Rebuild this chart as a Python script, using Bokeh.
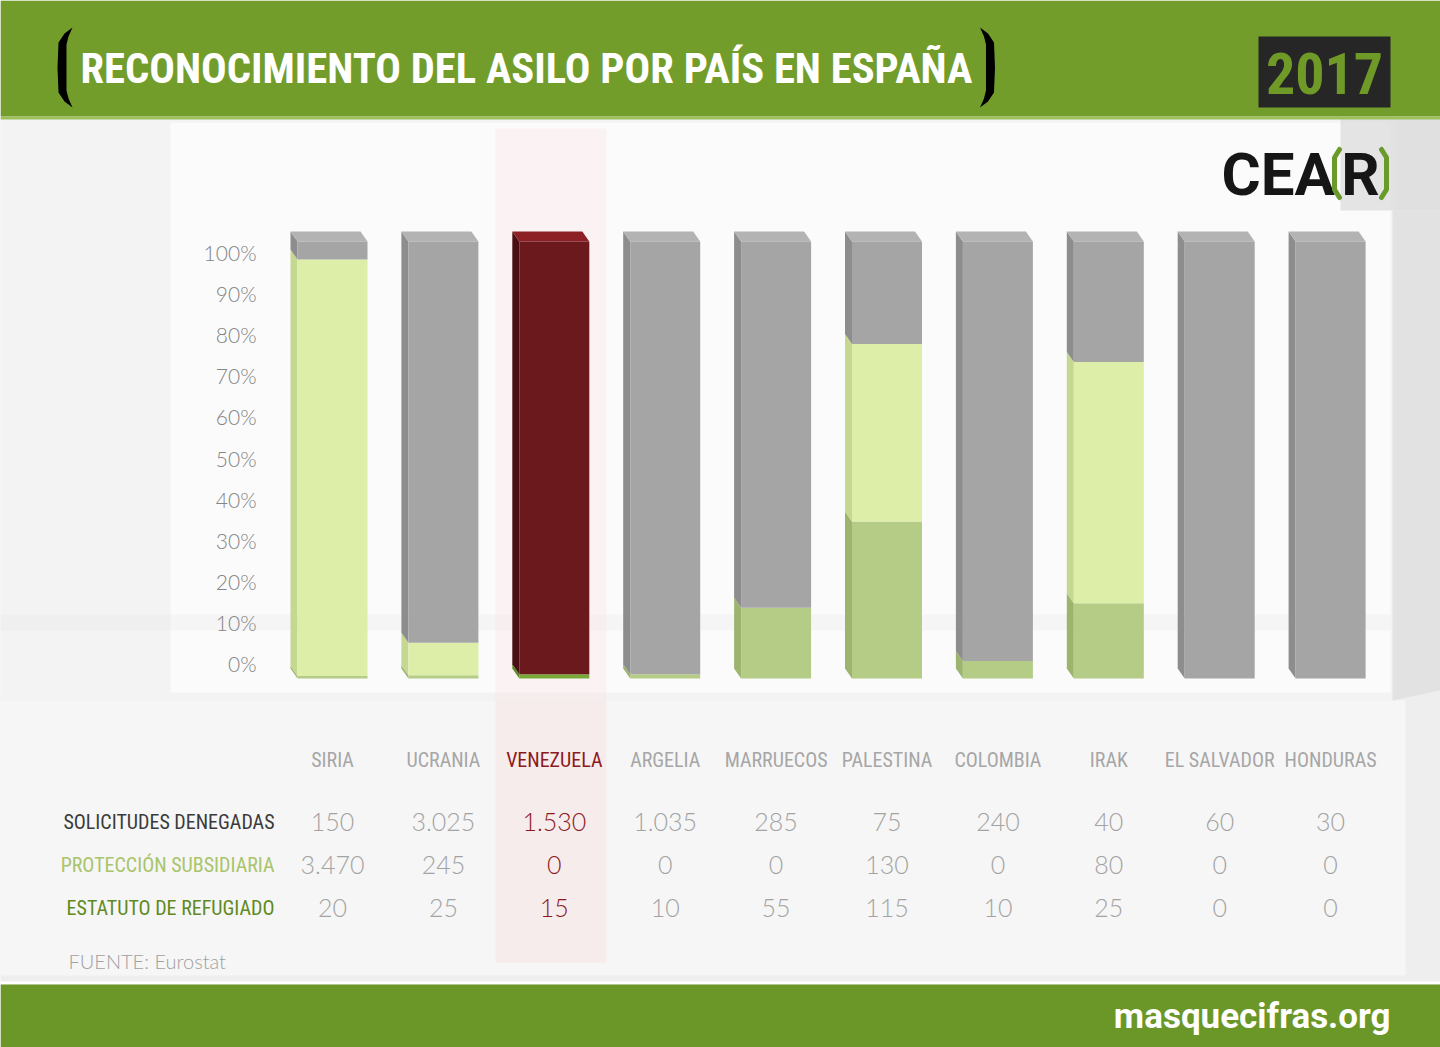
import numpy as np
from bokeh.plotting import figure
from bokeh.models import Range1d
from bokeh.core.properties import value
from bokeh.embed import file_html
from bokeh.resources import INLINE

# ---------------- data ----------------
countries = ["SIRIA", "UCRANIA", "VENEZUELA", "ARGELIA", "MARRUECOS",
             "PALESTINA", "COLOMBIA", "IRAK", "EL SALVADOR", "HONDURAS"]
denegadas = [150, 3025, 1530, 1035, 285, 75, 240, 40, 60, 30]
subsidiaria = [3470, 245, 0, 0, 0, 130, 0, 80, 0, 0]
refugiado = [20, 25, 15, 10, 55, 115, 10, 25, 0, 0]
row_labels = ["SOLICITUDES DENEGADAS", "PROTECCIÓN SUBSIDIARIA", "ESTATUTO DE REFUGIADO"]
pct_ticks = [0.0, 0.1, 0.2, 0.3, 0.4, 0.5, 0.6, 0.7, 0.8, 0.9, 1.0]
pct_labels = ["0%", "10%", "20%", "30%", "40%", "50%", "60%", "70%", "80%", "90%", "100%"]
highlight = "VENEZUELA"
title = "RECONOCIMIENTO DEL ASILO POR PAÍS EN ESPAÑA"
year = "2017"
source_note = "FUENTE: Eurostat"
site = "masquecifras.org"

# ---------------- layout constants ----------------
W, H = 1440, 1047
X0, XSTEP = 332.0, 110.9      # pixel centre of first bar, spacing between bars
Y0, YSCALE = 678.0, 437.0     # pixel of 0 %, pixels per 100 %
P0, PSCALE = 663.0, 411.0     # pixel of "0%" label, pixels per 100 % for labels
HALF = 35.0 / XSTEP           # half width of bar front face
DX, DY = 7.0 / XSTEP, 10.0 / YSCALE  # depth offset of 3D faces

GREEN_HEAD = "#739d2b"
GREEN_FOOT = "#6a9727"
COND = value("Roboto Condensed")
LIGHT = value("Lato Light")

p = figure(width=W, height=H, output_backend="svg", toolbar_location=None,
           x_axis_location=None, y_axis_location=None,
           x_range=Range1d(-X0 / XSTEP, (W - X0) / XSTEP),
           y_range=Range1d((Y0 - H) / YSCALE, Y0 / YSCALE),
           min_border=0, outline_line_color=None,
           background_fill_color="#eeeeee", border_fill_color="#eeeeee")
p.grid.visible = False
p.extra_x_ranges = {"px": Range1d(0, W)}
p.extra_y_ranges = {"px": Range1d(H, 0), "pct": Range1d((P0 - H) / PSCALE, P0 / PSCALE)}

PX = dict(x_range_name="px", y_range_name="px")

# ---------------- background ----------------
p.quad(left=[0], right=[1395], top=[118], bottom=[700], fill_color="#f3f3f3", line_color=None, **PX)
p.quad(left=[170], right=[1390], top=[122], bottom=[692], fill_color="#fbfbfb", line_color=None, **PX)
p.quad(left=[0], right=[1390], top=[614], bottom=[630], fill_color="#e2e2e2", fill_alpha=0.2, line_color=None, **PX)
p.quad(left=[0], right=[1405], top=[700], bottom=[975], fill_color="#f6f6f6", line_color=None, **PX)
p.quad(left=[1340], right=[1440], top=[118], bottom=[210], fill_color="#dadada", fill_alpha=0.7, line_color=None, **PX)
p.patch(x=[1392, 1440, 1440, 1392], y=[210, 210, 690, 700],
        fill_color="#dedede", fill_alpha=0.8, line_color=None, **PX)
# highlighted column
hi = countries.index(highlight)
p.quad(left=[hi - 0.53], right=[hi + 0.47], top=[128], bottom=[700],
       y_range_name="px", fill_color="#fbe6e6", fill_alpha=0.35, line_color=None)
p.quad(left=[hi - 0.53], right=[hi + 0.47], top=[700], bottom=[962],
       y_range_name="px", fill_color="#f8e2e2", fill_alpha=0.5, line_color=None)

# header and footer bands
p.quad(left=[0], right=[W], top=[0], bottom=[116], fill_color=GREEN_HEAD, line_color=None, **PX)
p.quad(left=[0], right=[W], top=[116], bottom=[119], fill_color="#9cc05a", line_color=None, **PX)
p.quad(left=[0], right=[W], top=[981], bottom=[984], fill_color="#ffffff", line_color=None, **PX)
p.quad(left=[0], right=[W], top=[984], bottom=[H], fill_color=GREEN_FOOT, line_color=None, **PX)

# ---------------- bars ----------------
den = np.array(denegadas, float)
sub = np.array(subsidiaria, float)
ref = np.array(refugiado, float)
tot = den + sub + ref
f_ref, f_sub = ref / tot, sub / tot

norm = {"ref": ("#b4cc86", "#9db46f"), "sub": ("#ddeea8", "#c5d892"), "den": ("#a5a5a5", "#8d8d8d")}
hil = {"ref": ("#78a83a", "#5d8a26"), "sub": ("#ddeea8", "#c5d892"), "den": ("#6b191c", "#4a0f12")}

L, R, B, T, FC = [], [], [], [], []
SX, SY, SC = [], [], []
TX, TY, TC = [], [], []
for i, c in enumerate(countries):
    pal = hil if c == highlight else norm
    segs = [("ref", 0.0, f_ref[i]),
            ("sub", f_ref[i], f_ref[i] + f_sub[i]),
            ("den", f_ref[i] + f_sub[i], 1.0)]
    left, right = i - HALF, i + HALF
    for key, b, t in segs:
        if t - b <= 0:
            continue
        L.append(left); R.append(right); B.append(b); T.append(t); FC.append(pal[key][0])
        SX.append([left - DX, left, left, left - DX])
        SY.append([b + DY, b, t, t + DY])
        SC.append(pal[key][1])
    TX.append([left, right, right - DX, left - DX])
    TY.append([1.0, 1.0, 1.0 + DY, 1.0 + DY])
    TC.append("#8c2024" if c == highlight else "#b3b3b3")

p.patches(xs=SX, ys=SY, fill_color=SC, line_color=None)
p.patches(xs=TX, ys=TY, fill_color=TC, line_color=None)
p.quad(left=L, right=R, bottom=B, top=T, fill_color=FC, line_color=None)

# percent labels
p.text(x=[256] * len(pct_ticks), y=pct_ticks, text=pct_labels,
       x_range_name="px", y_range_name="pct",
       text_align="right", text_baseline="middle", text_font=LIGHT,
       text_font_size="21px", text_color="#858585")

# ---------------- table ----------------
idx = list(range(len(countries)))
col_colors = ["#8b1a1e" if c == highlight else "#a6a6a6" for c in countries]
p.text(x=idx, y=[759] * len(countries), text=countries, y_range_name="px",
       text_align="center", text_baseline="middle", text_font=COND,
       text_font_size="20px", text_color=col_colors)


def fmt(v):
    return f"{v:,}".replace(",", ".")


row_y = [821, 864, 907]
row_colors = ["#3b3b3b", "#a9c46a", "#5f8a1e"]
for vals, y in zip([denegadas, subsidiaria, refugiado], row_y):
    p.text(x=idx, y=[y] * len(idx), text=[fmt(v) for v in vals], y_range_name="px",
           text_align="center", text_baseline="middle", text_font=LIGHT,
           text_font_size="25px",
           text_color=["#8b1a1e" if c == highlight else "#a3a3a3" for c in countries])

p.text(x=[274] * 3, y=row_y, text=row_labels, text_color=row_colors,
       text_align="right", text_baseline="middle", text_font=COND,
       text_font_size="20px", **PX)

p.text(x=[68], y=[960], text=[source_note], text_color="#a0a0a0",
       text_align="left", text_baseline="middle", text_font=LIGHT,
       text_font_size="20px", **PX)

# ---------------- header ----------------
p.text(x=[80], y=[67], text=[title], text_color="white", text_align="left",
       text_baseline="middle", text_font=COND, text_font_style="bold",
       text_font_size="42.6px", **PX)
# brackets around title
bx = [72, 64, 58, 57, 58, 64, 72, 68, 66, 66, 68]
by = [27, 33, 42, 67, 92, 101, 107, 98, 90, 44, 36]
p.patch(x=bx, y=by, fill_color="black", line_color=None, **PX)
p.patch(x=[1051.5 - v for v in bx], y=by, fill_color="black", line_color=None, **PX)

p.quad(left=[1258], right=[1390], top=[36], bottom=[107], fill_color="#262626", line_color=None, **PX)
p.text(x=[1324], y=[73], text=[year], text_color="#6f9a27", text_align="center",
       text_baseline="middle", text_font=COND, text_font_style="bold",
       text_font_size="58px", **PX)

# CEAR logo
p.text(x=[1221], y=[174], text=["CEA"], text_color="#161616", text_align="left",
       text_baseline="middle", text_font=value("Roboto"), text_font_style="bold",
       text_font_size="60px", **PX)
p.text(x=[1360], y=[174], text=["R"], text_color="#161616", text_align="center",
       text_baseline="middle", text_font=value("Roboto"), text_font_style="bold",
       text_font_size="60px", **PX)
p.multi_line(xs=[[1339, 1334, 1334, 1339], [1381, 1386, 1386, 1381]],
             ys=[[149, 157, 189, 197], [149, 157, 189, 197]],
             line_color="#6a9a2a", line_width=5, line_cap="round", **PX)

# footer
p.text(x=[1390], y=[1016], text=[site], text_color="white", text_align="right",
       text_baseline="middle", text_font=value("Roboto"), text_font_style="bold",
       text_font_size="35px", **PX)

open("out.html", "w").write(file_html(p, INLINE))
